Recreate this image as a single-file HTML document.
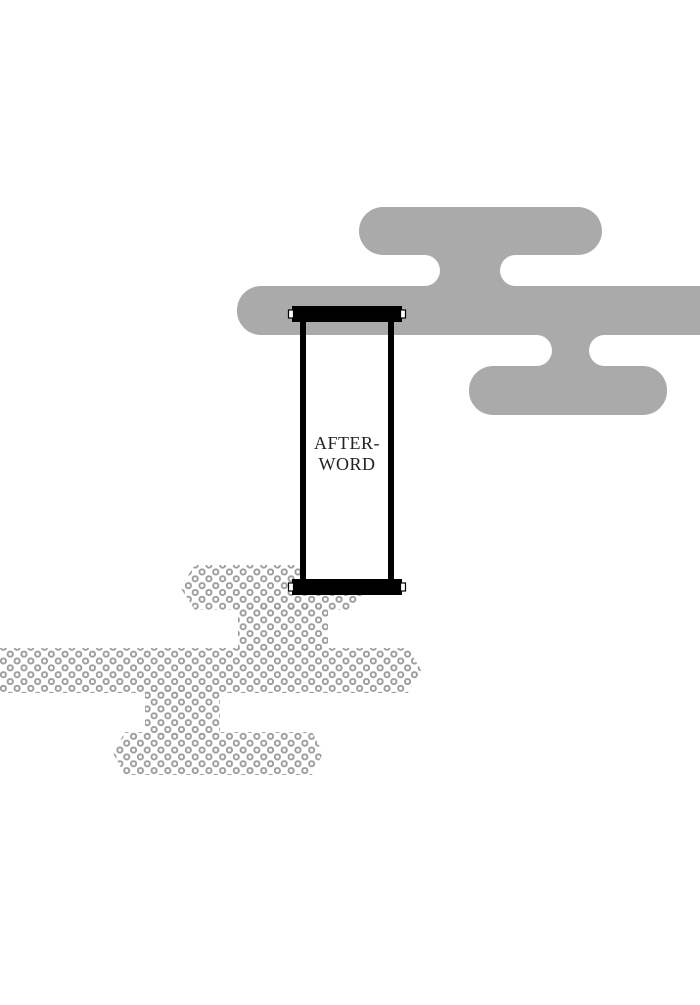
<!DOCTYPE html>
<html><head><meta charset="utf-8"><style>
html,body{margin:0;padding:0;background:#fff;}
svg{display:block;}
</style></head><body>
<svg width="700" height="1005" viewBox="0 0 700 1005" xmlns="http://www.w3.org/2000/svg">
<defs>
<pattern id="dots" x="0" y="0" width="13.7" height="13.7" patternUnits="userSpaceOnUse">
<circle cx="3.4" cy="3.4" r="2.6" fill="none" stroke="#9a9a9a" stroke-width="1.9"/>
<circle cx="10.25" cy="10.25" r="2.6" fill="none" stroke="#9a9a9a" stroke-width="1.9"/>
</pattern>
</defs>
<g fill="#aaaaaa">
<rect x="420" y="240" width="100" height="60"/>
<rect x="530" y="320" width="80" height="60"/>
</g>
<g fill="#ffffff">
<rect x="300" y="255" width="140" height="31" rx="15.5"/>
<rect x="500" y="255" width="200" height="31" rx="15.5"/>
<rect x="400" y="335" width="152" height="31" rx="15.5"/>
<rect x="589" y="335" width="140" height="31" rx="15.5"/>
</g>
<g fill="#aaaaaa">
<rect x="359" y="207" width="243" height="48" rx="24"/>
<rect x="237" y="286" width="500" height="49" rx="24"/>
<rect x="469" y="366" width="198" height="49" rx="24"/>
</g>
<g fill="url(#dots)">
<polygon points="180,587 195,565 350,565 368,587 352,610 195,610"/>
<rect x="238" y="605" width="90" height="45"/>
<polygon points="0,648 408,648 421,670 408,693 0,693"/>
<rect x="145" y="690" width="75" height="45"/>
<polygon points="113,753 125,732 312,732 323,753 312,775 125,775"/>
</g>
<rect x="306" y="335" width="82" height="245" fill="#fff"/>
<rect x="300" y="318" width="6" height="266" fill="#000"/>
<rect x="388" y="318" width="6" height="266" fill="#000"/>
<rect x="292" y="306" width="110" height="16" fill="#000"/>
<rect x="288.5" y="310" width="5" height="8" fill="#fff" stroke="#000" stroke-width="1.2"/>
<rect x="400.5" y="310" width="5" height="8" fill="#fff" stroke="#000" stroke-width="1.2"/>
<rect x="292" y="579" width="110" height="16" fill="#000"/>
<rect x="288.5" y="583" width="5" height="8" fill="#fff" stroke="#000" stroke-width="1.2"/>
<rect x="400.5" y="583" width="5" height="8" fill="#fff" stroke="#000" stroke-width="1.2"/>
<text x="347" y="449" text-anchor="middle" font-family="Liberation Serif, serif" font-size="18" fill="#222" letter-spacing="0.5">AFTER-</text>
<text x="347" y="470" text-anchor="middle" font-family="Liberation Serif, serif" font-size="18" fill="#222" letter-spacing="0.5">WORD</text>
</svg>
</body></html>
